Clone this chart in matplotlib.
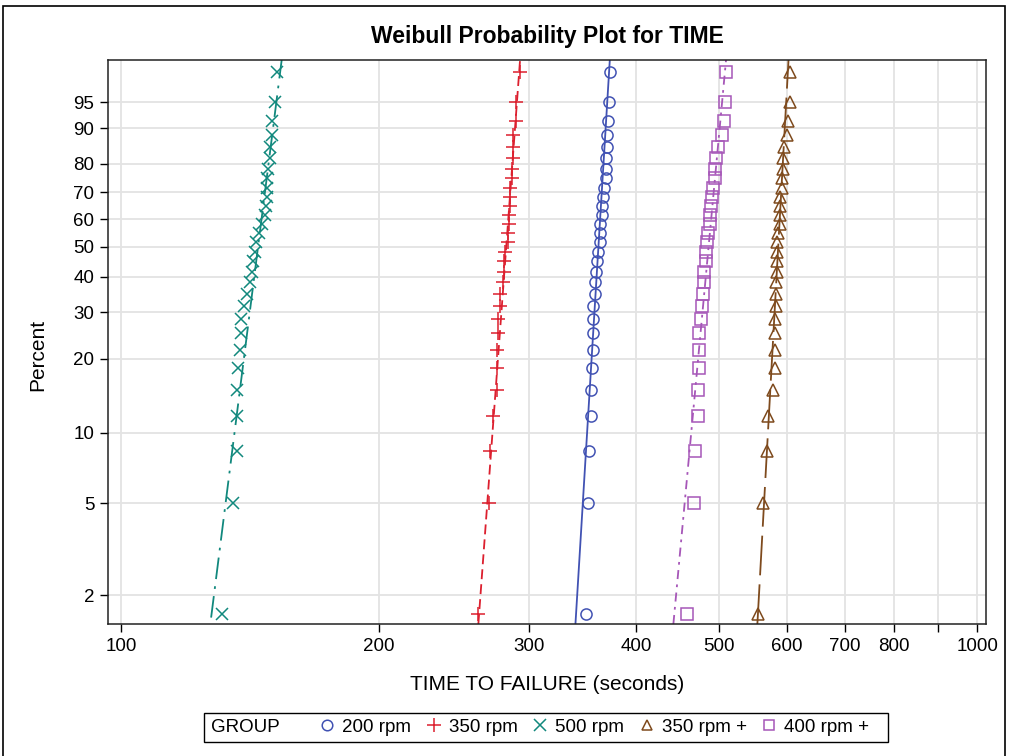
import numpy as np
import matplotlib
matplotlib.use("Agg")
import matplotlib.pyplot as plt
from matplotlib.lines import Line2D
from matplotlib.patches import Rectangle

plt.rcParams['font.family'] = ['Liberation Sans', 'DejaVu Sans']

# failure times (seconds), 30 units per group
time_200 = [349.1, 350.9, 352.5, 354.1, 354.1, 354.7, 355.7, 355.7, 356.3, 356.3,
            357.9, 357.9, 358.9, 359.5, 361.1, 362.7, 362.7, 362.7, 364.4, 364.4,
            366.0, 367.0, 368.6, 368.6, 368.6, 369.3, 369.3, 370.9, 371.6, 372.6]
time_350 = [261.0, 269.3, 269.8, 272.2, 274.7, 274.7, 274.7, 275.9, 275.9, 277.2,
            277.2, 279.2, 280.4, 280.4, 280.9, 282.9, 283.4, 283.9, 283.9, 284.7,
            284.7, 284.7, 286.0, 286.5, 287.2, 287.2, 287.2, 289.1, 289.1, 292.5]
time_500 = [131.4, 135.3, 136.5, 136.5, 136.5, 137.1, 137.8, 138.0, 138.0, 139.3,
            140.5, 141.5, 142.2, 142.8, 143.4, 143.8, 145.1, 146.0, 147.3, 147.6,
            148.0, 148.0, 148.0, 148.6, 149.3, 149.3, 150.0, 150.0, 151.3, 152.0]
time_350p = [555.3, 561.9, 568.0, 570.4, 578.1, 580.8, 580.8, 580.8, 580.8, 582.3,
             582.3, 582.3, 583.4, 583.4, 584.4, 584.4, 586.0, 588.6, 588.6, 588.6,
             588.6, 591.3, 592.3, 593.9, 593.9, 595.5, 599.3, 601.0, 604.7, 604.7]
time_400p = [457.9, 467.4, 468.2, 472.4, 472.4, 473.7, 473.7, 473.7, 475.9, 477.5,
             478.0, 479.7, 479.7, 482.3, 482.3, 483.2, 485.3, 487.5, 487.5, 488.4,
             489.7, 491.9, 494.1, 494.1, 495.0, 498.5, 503.1, 506.6, 507.6, 508.9]

groups = ['200 rpm', '350 rpm', '500 rpm', '350 rpm +', '400 rpm +']
times = [time_200, time_350, time_500, time_350p, time_400p]

# fitted Weibull lines (shape, scale)
shape = [61.9, 51.0, 29.8, 68.3, 40.4]
scale = [363.3, 283.9, 146.4, 588.8, 490.1]
# percent range each fitted line covers
line_lo = [1.5, 1.5, 1.6, 1.5, 1.5]
line_hi = [99.0, 99.0, 99.0, 99.0, 99.0]

colors = ['#4152B3', '#DC1F2E', '#11887D', '#7E4A1D', '#A656B8']
markers = ['o', '+', 'x', '^', 's']
msizes = [8, 10, 9, 8, 8]
styles = ['-', (0, (5.5, 2.8)), (0, (12, 4, 1.5, 4)), (0, (22, 5)), (0, (5, 3, 1.5, 3))]

y_ticks = [2, 5, 10, 20, 30, 40, 50, 60, 70, 80, 90, 95]
x_ticks = [100, 200, 300, 400, 500, 600, 700, 800, 900, 1000]
x_tick_labels = ['100', '200', '300', '400', '500', '600', '700', '800', '', '1000']


def weib_fwd(p):
    p = np.clip(np.asarray(p, dtype=float), 1e-9, 100 - 1e-9)
    return np.log(-np.log(1 - p / 100.0))


def weib_inv(y):
    return 100.0 * (1 - np.exp(-np.exp(np.asarray(y, dtype=float))))


W, H = 1010, 756
fig = plt.figure(figsize=(W / 100, H / 100), dpi=100)
ax = fig.add_axes([108 / W, 1 - 624 / H, (986 - 108) / W, (624 - 60) / H])
ax.set_xscale('log')
ax.set_yscale('function', functions=(weib_fwd, weib_inv))
ax.set_xlim(96.6, 1024)
ax.set_ylim(1.5, 99.0)

for k in range(len(groups)):
    t = times[k]
    c = colors[k]
    n = len(t)
    pct = (np.arange(1, n + 1) - 0.5) / n * 100
    ax.plot(np.sort(t), pct, linestyle='none', marker=markers[k], markersize=msizes[k],
            markerfacecolor='none', markeredgecolor=c, markeredgewidth=1.1, zorder=3)
    p_line = np.linspace(line_lo[k], line_hi[k], 400)
    t_line = scale[k] * (-np.log(1 - p_line / 100)) ** (1 / shape[k])
    ax.plot(t_line, p_line, color=c, lw=1.3, linestyle=styles[k], zorder=2)

ax.set_xticks(x_ticks)
ax.set_xticklabels(x_tick_labels)
ax.xaxis.set_minor_locator(matplotlib.ticker.NullLocator())
ax.set_yticks(y_ticks)
ax.set_yticklabels([str(v) for v in y_ticks])
ax.yaxis.set_minor_locator(matplotlib.ticker.NullLocator())
ax.tick_params(axis='both', direction='out', length=5.8, width=1.0, labelsize=13.5,
               color='black', pad=4)
ax.grid(True, color='#E3E3E3', lw=1.3)
ax.set_axisbelow(True)
for s in ax.spines.values():
    s.set_linewidth(1.1)
    s.set_color('#222222')

fig.text(547 / W, 1 - 36 / H, 'Weibull Probability Plot for TIME', ha='center',
         va='center', fontsize=16.5, fontweight='bold')
fig.text(547 / W, 1 - 685 / H, 'TIME TO FAILURE (seconds)', ha='center', va='center',
         fontsize=15)
fig.text(38 / W, 1 - 355 / H, 'Percent', ha='center', va='center', rotation=90,
         fontsize=15)

# legend with inline GROUP label
fig.add_artist(Rectangle((204 / W, 1 - 742 / H), (888 - 204) / W, 29 / H,
                         transform=fig.transFigure, fill=False, ec='black', lw=1.0))
fig.text(211 / W, 1 - 727 / H, 'GROUP', ha='left', va='center', fontsize=13.5)
handles = [Line2D([], [], linestyle='none', marker=markers[k], markersize=msizes[k] * 0.95,
                  markerfacecolor='none', markeredgecolor=colors[k], markeredgewidth=1.1)
           for k in range(len(groups))]
fig.legend(handles, groups, loc='center', bbox_to_anchor=(594 / W, 1 - 727 / H),
           ncol=5, frameon=False, fontsize=13.5, handlelength=0.9, handletextpad=0.35,
           columnspacing=0.75, borderpad=0, borderaxespad=0)

# outer frame
fig.add_artist(Rectangle((3 / W, -0.05), (1005 - 3) / W, 1.05 - 6 / H,
                         transform=fig.transFigure, fill=False, ec='black', lw=1.2))

fig.savefig('out.png', dpi=100)
